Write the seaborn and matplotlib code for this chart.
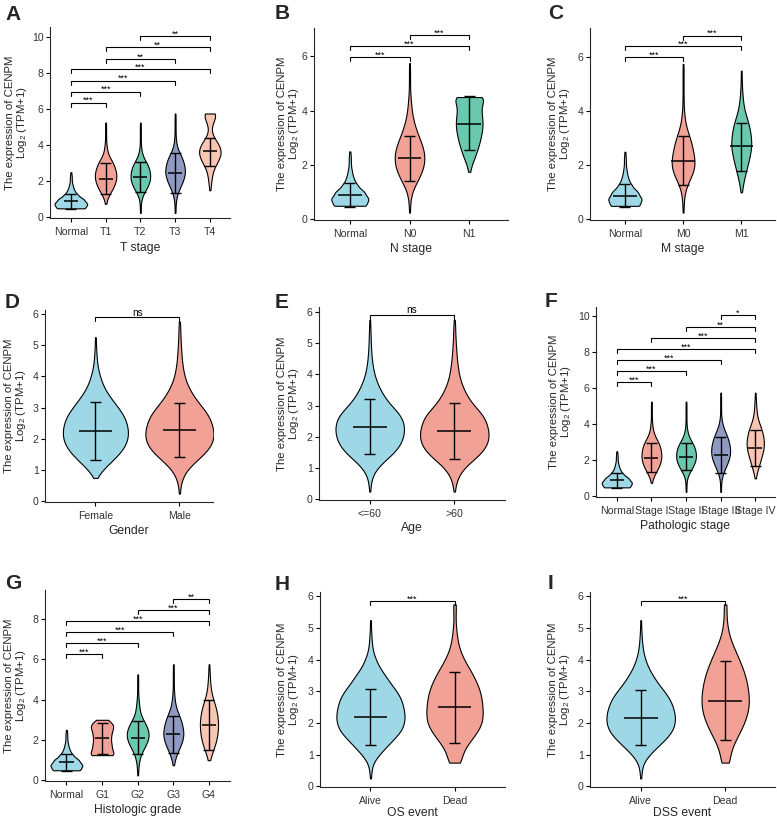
import numpy as np
import pandas as pd
import matplotlib
matplotlib.use("Agg")
import matplotlib.pyplot as plt
import seaborn as sns

# ---------------- data ----------------
# Expression levels (log2 TPM+1) and, for every group, the relative number of samples
# at each level.
Y_GRID = [0.25, 0.50, 0.75, 1.00, 1.25, 1.50, 1.75, 2.00, 2.25, 2.50, 2.75, 3.00,
          3.25, 3.50, 3.75, 4.00, 4.25, 4.50, 4.75, 5.00, 5.25, 5.50, 5.75]

NORMAL = [0, 31, 35, 27, 14, 7, 4, 2, 2, 1, 0, 0, 0, 0, 0, 0, 0, 0, 0, 0, 0, 0, 0]

T1 = [0, 0, 1, 3, 7, 13, 18, 21, 23, 22, 19, 16, 10, 5, 3, 2, 1, 1, 1, 1, 1, 0, 0]
T2 = [1, 1, 1, 2, 5, 11, 16, 20, 21, 20, 18, 14, 7, 4, 2, 1, 1, 1, 1, 1, 1, 0, 0]
T3 = [1, 1, 1, 2, 4, 7, 12, 16, 19, 21, 20, 18, 15, 11, 5, 3, 2, 1, 1, 1, 1, 1, 1]
T4 = [0, 0, 0, 0, 0, 1, 2, 3, 4, 5, 8, 14, 19, 23, 23, 19, 13, 5, 2, 3, 5, 11, 19]

N0 = [1, 1, 2, 4, 10, 17, 23, 27, 28, 27, 23, 18, 13, 9, 6, 4, 3, 2, 1, 1, 1, 1, 1]
N1 = [0, 0, 0, 0, 0, 0, 1, 3, 7, 10, 13, 15, 17, 18, 17, 16, 15, 26, 0, 0, 0, 0, 0]

M0 = [1, 1, 2, 3, 7, 14, 21, 24, 23, 20, 18, 14, 9, 5, 3, 2, 1, 1, 1, 1, 1, 1, 1]
M1 = [0, 0, 0, 1, 3, 6, 9, 13, 16, 19, 21, 20, 18, 16, 11, 7, 4, 3, 2, 1, 1, 1, 0]

FEMALE = [0, 0, 2, 14, 30, 46, 58, 64, 65, 62, 56, 45, 33, 22, 14, 9, 5, 3, 2, 1, 1, 0, 0]
MALE = [1, 2, 6, 14, 30, 48, 62, 68, 68, 64, 58, 46, 33, 23, 15, 10, 7, 5, 4, 3, 2, 2, 1]

AGE_LE60 = [1, 2, 5, 14, 30, 48, 60, 66, 68, 66, 58, 42, 30, 21, 14, 9, 6, 4, 3, 2, 2, 1, 1]
AGE_GT60 = [1, 3, 8, 18, 36, 54, 64, 68, 66, 62, 54, 38, 27, 19, 13, 9, 7, 5, 4, 3, 2, 2, 1]

STAGE_I = [0, 0, 1, 3, 8, 14, 19, 22, 23, 22, 20, 16, 10, 5, 3, 2, 1, 1, 1, 1, 1, 0, 0]
STAGE_II = [1, 1, 1, 2, 6, 12, 18, 22, 23, 22, 19, 14, 7, 4, 2, 1, 1, 1, 1, 1, 1, 0, 0]
STAGE_III = [1, 1, 1, 2, 5, 9, 14, 18, 21, 22, 21, 19, 16, 12, 7, 4, 2, 1, 1, 1, 1, 1, 1]
STAGE_IV = [0, 0, 0, 1, 3, 6, 9, 12, 15, 18, 20, 20, 19, 17, 14, 10, 6, 4, 3, 2, 2, 1, 1]

G1 = [0, 0, 0, 0, 25, 17, 17, 15, 16, 18, 22, 10, 0, 0, 0, 0, 0, 0, 0, 0, 0, 0, 0]
G2 = [1, 1, 2, 3, 6, 11, 17, 22, 24, 22, 18, 11, 6, 4, 3, 2, 1, 1, 1, 1, 1, 0, 0]
G3 = [0, 0, 1, 3, 6, 11, 16, 20, 22, 21, 19, 16, 12, 7, 4, 3, 2, 1, 1, 1, 1, 1, 1]
G4 = [0, 0, 0, 2, 5, 9, 13, 16, 18, 19, 20, 19, 18, 16, 13, 9, 6, 4, 3, 2, 2, 1, 1]

OS_ALIVE = [1, 2, 5, 17, 32, 47, 62, 68, 69, 66, 62, 53, 40, 30, 18, 11, 5, 3, 2, 1, 1, 0, 0]
OS_DEAD = [0, 0, 14, 15, 22, 36, 47, 57, 57, 57, 55, 52, 46, 38, 29, 19, 12, 7, 5, 3, 2, 2, 4]
DSS_ALIVE = [1, 2, 5, 17, 33, 50, 63, 68, 68, 64, 58, 47, 34, 24, 15, 9, 5, 3, 2, 1, 1, 0, 0]
DSS_DEAD = [0, 0, 10, 9, 14, 22, 30, 38, 43, 47, 47, 46, 43, 40, 34, 28, 21, 14, 8, 5, 3, 2, 4]

# categories
CATS_T = ["Normal", "T1", "T2", "T3", "T4"]
CATS_N = ["Normal", "N0", "N1"]
CATS_M = ["Normal", "M0", "M1"]
CATS_GENDER = ["Female", "Male"]
CATS_AGE = ["<=60", ">60"]
CATS_STAGE = ["Normal", "Stage I", "Stage II", "Stage III", "Stage IV"]
CATS_GRADE = ["Normal", "G1", "G2", "G3", "G4"]
CATS_EVENT = ["Alive", "Dead"]

# summary crossbars: centre, lower, upper
A_MID = [0.88, 2.15, 2.22, 2.45, 3.65]; A_LO = [0.45, 1.32, 1.40, 1.35, 2.85]; A_HI = [1.32, 3.00, 3.05, 3.55, 4.40]
B_MID = [0.88, 2.25, 3.52]; B_LO = [0.45, 1.40, 2.55]; B_HI = [1.32, 3.08, 4.52]
C_MID = [0.88, 2.17, 2.70]; C_LO = [0.45, 1.27, 1.80]; C_HI = [1.32, 3.07, 3.58]
D_MID = [2.25, 2.28]; D_LO = [1.32, 1.43]; D_HI = [3.17, 3.13]
E_MID = [2.33, 2.20]; E_LO = [1.45, 1.30]; E_HI = [3.20, 3.10]
F_MID = [0.88, 2.15, 2.18, 2.30, 2.70]; F_LO = [0.45, 1.35, 1.45, 1.30, 1.70]; F_HI = [1.32, 2.98, 2.98, 3.30, 3.70]
G_MID = [0.90, 2.10, 2.12, 2.30, 2.72]; G_LO = [0.47, 1.30, 1.32, 1.38, 1.48]; G_HI = [1.32, 2.85, 2.92, 3.18, 3.98]
H_MID = [2.20, 2.50]; H_LO = [1.32, 1.38]; H_HI = [3.07, 3.62]
I_MID = [2.17, 2.70]; I_LO = [1.32, 1.45]; I_HI = [3.03, 3.95]

# significance brackets
A_PAIRS = [(0, 1), (0, 2), (0, 3), (0, 4), (1, 3), (1, 4), (2, 4)]
A_LEVELS = [6.35, 6.96, 7.57, 8.20, 8.78, 9.41, 10.04]
A_SIG = ["***", "***", "***", "***", "**", "**", "**"]
B_PAIRS = [(0, 1), (0, 2), (1, 2)]; B_LEVELS = [5.97, 6.38, 6.77]; B_SIG = ["***", "***", "***"]
C_PAIRS = [(0, 1), (0, 2), (1, 2)]; C_LEVELS = [6.00, 6.40, 6.80]; C_SIG = ["***", "***", "***"]
D_PAIRS = [(0, 1)]; D_LEVELS = [5.89]; D_SIG = ["ns"]
E_PAIRS = [(0, 1)]; E_LEVELS = [5.91]; E_SIG = ["ns"]
F_PAIRS = [(0, 1), (0, 2), (0, 3), (0, 4), (1, 4), (2, 4), (3, 4)]
F_LEVELS = [6.35, 6.96, 7.57, 8.18, 8.78, 9.39, 10.07]
F_SIG = ["***", "***", "***", "***", "***", "**", "*"]
G_PAIRS = [(0, 1), (0, 2), (0, 3), (0, 4), (2, 4), (3, 4)]
G_LEVELS = [6.25, 6.80, 7.35, 7.90, 8.45, 8.97]
G_SIG = ["***", "***", "***", "***", "***", "**"]
H_PAIRS = [(0, 1)]; H_LEVELS = [5.86]; H_SIG = ["***"]
I_PAIRS = [(0, 1)]; I_LEVELS = [5.86]; I_SIG = ["***"]

# ---------------- style ----------------
C_BLUE, C_RED, C_GREEN, C_NAVY, C_PEACH = "#9ED8E7", "#F2A196", "#6AC8AE", "#8E9AC2", "#F9C6B4"
sns.set_style("ticks")
plt.rcParams["font.family"] = ["Liberation Sans", "DejaVu Sans"]
plt.rcParams["mathtext.fontset"] = "custom"
plt.rcParams["mathtext.rm"] = "Liberation Sans"
plt.rcParams["mathtext.it"] = "Liberation Sans:italic"

W, H = 777, 819
fig = plt.figure(figsize=(W / 100, H / 100), dpi=100)
YLABEL_1 = "The expression of CENPM"
YLABEL_2 = "Log$_2$ (TPM+1)"

panels = [
    # letter, letter pos px, axes box (l,t,r,b px), cats, counts, colours, xlabel, y top, yticks,
    # widest violin width, summaries, brackets, right x padding, ylabel offset px, xlabel pad
    ("A", (5, 20), (50, 27, 230, 218), CATS_T, [NORMAL, T1, T2, T3, T4],
     [C_BLUE, C_RED, C_GREEN, C_NAVY, C_PEACH], "T stage", 10.54, [0, 2, 4, 6, 8, 10], 0.94,
     (A_MID, A_LO, A_HI), (A_PAIRS, A_LEVELS, A_SIG), 0.58, 21, 3.5),
    ("B", (275, 19), (314, 28, 508, 220), CATS_N, [NORMAL, N0, N1],
     [C_BLUE, C_RED, C_GREEN], "N stage", 7.04, [0, 2, 4, 6], 0.62,
     (B_MID, B_LO, B_HI), (B_PAIRS, B_LEVELS, B_SIG), 0.65, 13, 3.0),
    ("C", (548, 19), (590, 28, 775, 220), CATS_M, [NORMAL, M0, M1],
     [C_BLUE, C_RED, C_GREEN], "M stage", 7.08, [0, 2, 4, 6], 0.57,
     (C_MID, C_LO, C_HI), (C_PAIRS, C_LEVELS, C_SIG), 0.58, 18, 3.0),
    ("D", (5, 308), (45, 310, 213, 502), CATS_GENDER, [FEMALE, MALE],
     [C_BLUE, C_RED], "Gender", 6.12, [0, 1, 2, 3, 4, 5, 6], 0.81,
     (D_MID, D_LO, D_HI), (D_PAIRS, D_LEVELS, D_SIG), 0.40, 16.5, 2.5),
    ("E", (275, 308), (319, 307, 505, 500), CATS_AGE, [AGE_LE60, AGE_GT60],
     [C_BLUE, C_RED], "Age", 6.16, [0, 1, 2, 3, 4, 5, 6], 0.81,
     (E_MID, E_LO, E_HI), (E_PAIRS, E_LEVELS, E_SIG), 0.60, 18, 2.5),
    ("F", (545, 307), (596, 307, 775, 497), CATS_STAGE, [NORMAL, STAGE_I, STAGE_II, STAGE_III, STAGE_IV],
     [C_BLUE, C_RED, C_GREEN, C_NAVY, C_PEACH], "Pathologic stage", 10.5, [0, 2, 4, 6, 8, 10], 0.87,
     (F_MID, F_LO, F_HI), (F_PAIRS, F_LEVELS, F_SIG), 0.57, 23, 2.5),
    ("G", (5, 589), (45, 590, 230, 781), CATS_GRADE, [NORMAL, G1, G2, G3, G4],
     [C_BLUE, C_RED, C_GREEN, C_NAVY, C_PEACH], "Histologic grade", 9.43, [0, 2, 4, 6, 8], 0.89,
     (G_MID, G_LO, G_HI), (G_PAIRS, G_LEVELS, G_SIG), 0.59, 16.5, 2.5),
    ("H", (275, 590), (320, 592, 505, 787), CATS_EVENT, [OS_ALIVE, OS_DEAD],
     [C_BLUE, C_RED], "OS event", 6.14, [0, 1, 2, 3, 4, 5, 6], 0.81,
     (H_MID, H_LO, H_HI), (H_PAIRS, H_LEVELS, H_SIG), 0.60, 19, 0.8),
    ("I", (548, 589), (590, 592, 775, 787), CATS_EVENT, [DSS_ALIVE, DSS_DEAD],
     [C_BLUE, C_RED], "DSS event", 6.14, [0, 1, 2, 3, 4, 5, 6], 0.81,
     (I_MID, I_LO, I_HI), (I_PAIRS, I_LEVELS, I_SIG), 0.59, 18, 0.8),
]

grid = np.asarray(Y_GRID, float)
for (letter, lpos, box, cats, counts, cols, xlabel, ytop, yticks, vwidth,
     summ, brackets, xr, yl_off, xl_pad) in panels:
    l, t, r, b = box
    ax = fig.add_axes([l / W, 1 - b / H, (r - l) / W, (b - t) / H])
    peak_all = max(max(c) for c in counts)
    for cat, cnt, col in zip(cats, counts, cols):
        vals = np.repeat(grid, cnt)
        sub = pd.DataFrame({"group": [cat] * len(vals), "value": vals})
        sns.violinplot(data=sub, x="group", y="value", order=cats, color=col,
                       cut=0, inner=None, density_norm="width",
                       width=vwidth * max(cnt) / peak_all, bw_adjust=0.8,
                       linewidth=0.8, linecolor="black", saturation=1, ax=ax)
    xmin, xmax = -0.6, len(cats) - 1 + xr
    ymin = -0.02 * ytop / 6
    ax.set_xlim(xmin, xmax)
    ax.set_ylim(ymin, ytop)
    px_per_unit = (r - l) / (xmax - xmin)
    cap = 11 / px_per_unit
    mid, lo, hi = summ
    for i in range(len(cats)):
        ax.vlines(i, lo[i], hi[i], color="black", lw=1.0, zorder=5)
        ax.hlines([lo[i], hi[i]], i - cap / 2, i + cap / 2, color="black", lw=1.0, zorder=5)
        ax.hlines(mid[i], i - 0.2, i + 0.2, color="black", lw=1.1, zorder=5)
    pairs, levels, sigs = brackets
    drop = 0.021 * (ytop - ymin)
    for (i, j), h, s in zip(pairs, levels, sigs):
        ax.plot([i, i, j, j], [h - drop, h, h, h - drop], color="black", lw=0.8,
                solid_joinstyle="miter", zorder=6)
        ax.annotate(s, xy=((i + j) / 2, h), xytext=(0, 1.0 if s == "ns" else -0.4),
                    textcoords="offset points", ha="center", va="baseline",
                    fontsize=7.2 if s == "ns" else 6.4, color="black")
    ax.set_yticks(yticks)
    ax.set_xticks(range(len(cats)))
    ax.set_xticklabels(cats)
    ax.set_xlabel(xlabel, fontsize=8.7, labelpad=xl_pad)
    ax.set_ylabel("")
    # two-line y title
    x2 = -yl_off / (r - l)
    x1 = -(yl_off + 14.2) / (r - l)
    ax.text(x2, 0.5, YLABEL_2, transform=ax.transAxes, rotation=90,
            rotation_mode="anchor", ha="center", va="bottom", fontsize=8.2)
    ax.text(x1, 0.5, YLABEL_1, transform=ax.transAxes, rotation=90,
            rotation_mode="anchor", ha="center", va="bottom", fontsize=8.2)
    ax.tick_params(axis="both", labelsize=7.6, length=3, width=0.8, colors="black",
                   labelcolor="#333333")
    ax.tick_params(axis="x", pad=3.5)
    ax.tick_params(axis="y", pad=1.5)
    for sp in ("top", "right"):
        ax.spines[sp].set_visible(False)
    for sp in ("left", "bottom"):
        ax.spines[sp].set_linewidth(0.8)
    fig.text(lpos[0] / W, 1 - lpos[1] / H, letter, fontsize=15, fontweight="bold",
             ha="left", va="baseline")

fig.savefig("out.png", dpi=100)
